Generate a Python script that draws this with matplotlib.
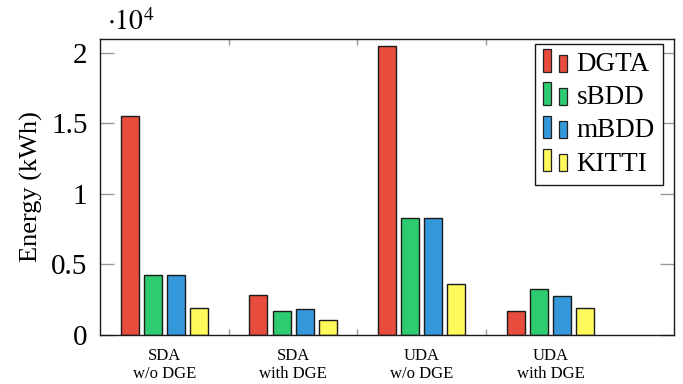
import matplotlib
matplotlib.use("Agg")
import matplotlib.pyplot as plt
import numpy as np
from matplotlib.patches import Rectangle
from matplotlib.legend_handler import HandlerBase
from matplotlib.ticker import FixedLocator, FuncFormatter

plt.rcParams['font.family'] = ['Liberation Serif', 'DejaVu Serif']
plt.rcParams['mathtext.fontset'] = 'stix'

groups = ["SDA\nw/o DGE", "SDA\nwith DGE", "UDA\nw/o DGE", "UDA\nwith DGE"]
series = ["DGTA", "sBDD", "mBDD", "KITTI"]
dgta = [15500, 2800, 20500, 1700]
sbdd = [4200, 1700, 8300, 3200]
mbdd = [4250, 1800, 8280, 2750]
kitti = [1900, 1050, 3600, 1850]
colors = ["#e74c3c", "#2ecc71", "#3498db", "#fff95b"]


class TwoBarHandler(HandlerBase):
    """Legend image made of two small bars, like a pgfplots ybar legend."""
    def create_artists(self, legend, orig_handle, xdescent, ydescent,
                       width, height, fontsize, trans):
        fc = orig_handle.get_facecolor()
        w = width * 0.33
        base = -ydescent - height * 0.05
        r1 = Rectangle((-xdescent, base), w, height * 1.2,
                       facecolor=fc, edgecolor="#222222",
                       linewidth=0.9, transform=trans)
        r2 = Rectangle((-xdescent + width * 0.67, base), w, height * 0.92,
                       facecolor=fc, edgecolor="#222222",
                       linewidth=0.9, transform=trans)
        return [r1, r2]


fig = plt.figure(figsize=(6.83, 3.84), dpi=100)
ax = fig.add_axes([0.1464, 0.1289, 0.8404, 0.7695])

x = np.arange(len(groups))
width = 0.14
step = 0.179
handles = []
for i, (vals, c) in enumerate(zip([dgta, sbdd, mbdd, kitti], colors)):
    bars = ax.bar(x + (i - 1.5) * step, vals, width, color=c,
                  edgecolor="#1a1a1a", linewidth=1.0, label=series[i], zorder=2)
    handles.append(bars.patches[0])

ax.set_xlim(-0.5, 3.96)
ax.set_ylim(0, 21000)

ax.yaxis.set_major_locator(FixedLocator([0, 5000, 10000, 15000, 20000]))
ax.yaxis.set_major_formatter(FuncFormatter(lambda v, p: f"{v/1e4:g}"))
ax.tick_params(axis="y", which="major", direction="in", length=10,
               color="#999999", width=1.0, right=True, labelsize=21, pad=9)

ax.set_xticks(x)
ax.set_xticklabels(groups, fontsize=12, linespacing=1.15)
ax.tick_params(axis="x", which="major", length=0, pad=10)
ax.xaxis.set_minor_locator(FixedLocator([0.5, 1.5, 2.5]))
ax.tick_params(axis="x", which="minor", direction="in", length=4,
               color="#999999", width=1.0, top=True)

for s in ax.spines.values():
    s.set_color("#1a1a1a")
    s.set_linewidth(1.0)

ax.set_ylabel("Energy (kWh)", fontsize=19, labelpad=6)
ax.text(0.012, 1.01, r"$\cdot 10^4$", transform=ax.transAxes, fontsize=20,
        ha="left", va="bottom")

leg = ax.legend(handles=handles, labels=series, loc="upper right",
                handler_map={h: TwoBarHandler() for h in handles},
                fontsize=19.5, frameon=True, fancybox=False, framealpha=1,
                edgecolor="#1a1a1a", borderpad=0.3, labelspacing=0.3,
                handlelength=0.9, handletextpad=0.35, borderaxespad=0,
                bbox_to_anchor=(0.981, 0.983))
leg.get_frame().set_linewidth(1.0)

fig.savefig("out.png", dpi=100)
